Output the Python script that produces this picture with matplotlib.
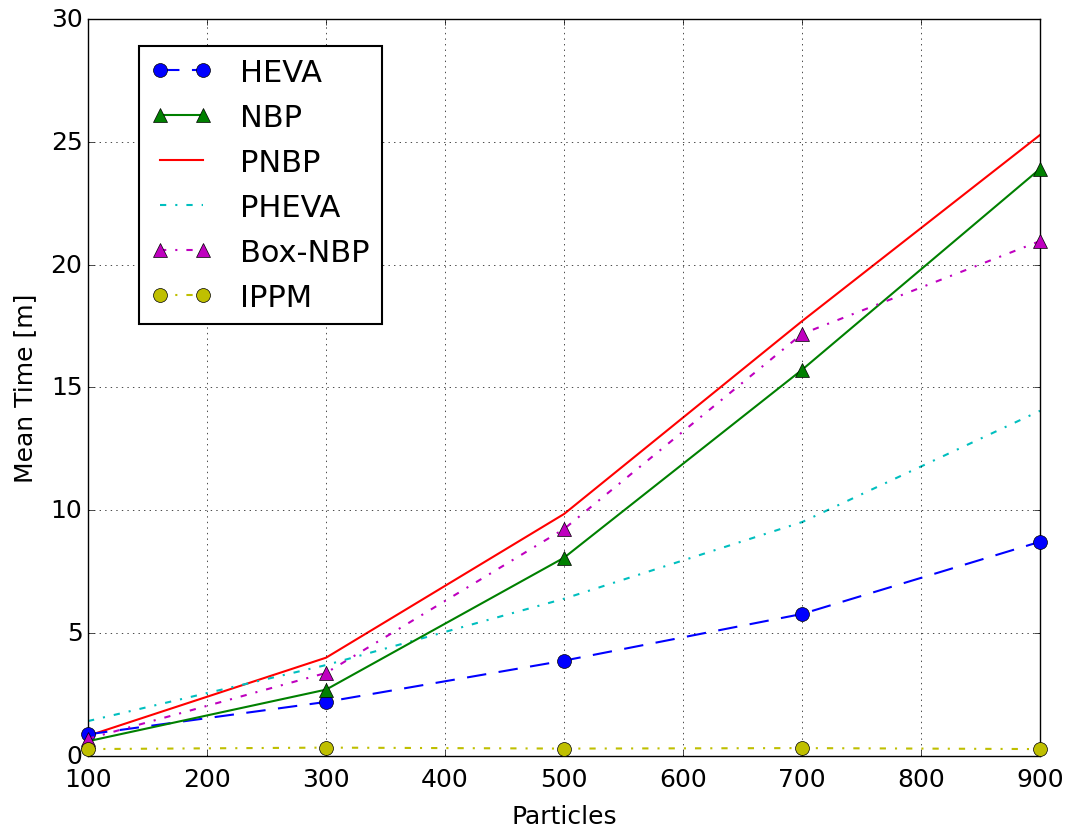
import matplotlib
matplotlib.use("Agg")
import matplotlib.pyplot as plt

plt.style.use("classic")
plt.rcParams["lines.scale_dashes"] = False

particles = [100, 300, 500, 700, 900]
heva = [0.88, 2.2, 3.88, 5.78, 8.72]
nbp = [0.6, 2.7, 8.07, 15.72, 23.9]
pnbp = [0.82, 4.0, 9.85, 17.7, 25.28]
pheva = [1.42, 3.7, 6.4, 9.52, 14.05]
box_nbp = [0.7, 3.38, 9.24, 17.18, 20.96]
ippm = [0.28, 0.34, 0.3, 0.32, 0.28]

fig = plt.figure(figsize=(10.79, 8.29), dpi=100, facecolor="white")
ax = fig.add_axes([0.0816, 0.0869, 0.8823, 0.889])

lw = 1.5
ms = 10
dashed = (0, (14, 9))
dashdot = (0, (4.5, 6.5, 1.5, 6.5))
ax.plot(particles, heva, "bo", ls=dashed, lw=lw, ms=ms, label="HEVA", clip_on=False, zorder=3)
ax.plot(particles, nbp, "g^-", lw=lw, ms=ms, label="NBP", clip_on=False, zorder=3)
ax.plot(particles, pnbp, "r-", lw=lw, label="PNBP")
ax.plot(particles, pheva, "c", ls=dashdot, lw=lw, label="PHEVA")
ax.plot(particles, box_nbp, "m^", ls=dashdot, lw=lw, ms=ms, label="Box-NBP", clip_on=False, zorder=3)
ax.plot(particles, ippm, "yo", ls=dashdot, lw=lw, ms=ms, label="IPPM", clip_on=False, zorder=3)

ax.set_xlim(100, 900)
ax.set_ylim(0, 30)
ax.set_xticks(range(100, 1000, 100))
ax.set_yticks(range(0, 31, 5))
ax.tick_params(labelsize=18)
ax.tick_params(axis="x", pad=8)
ax.grid(True, color="black", linestyle=":")
ax.set_xlabel("Particles", fontsize=18, labelpad=9)
ax.set_ylabel("Mean Time [m]", fontsize=18, labelpad=10)

leg = ax.legend(loc="upper left", bbox_to_anchor=(0.0536, 0.9634), borderaxespad=0,
                fontsize=22, numpoints=2, labelspacing=0.52, handlelength=2.0,
                handletextpad=0.9, fancybox=False)
leg.get_frame().set_linewidth(1.5)

fig.savefig("out.png", dpi=100, facecolor="white")
